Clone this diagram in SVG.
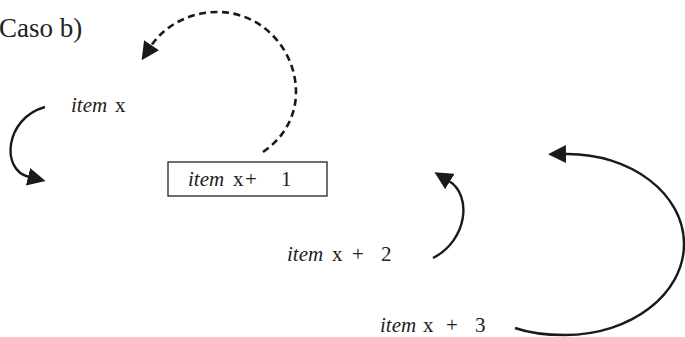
<svg xmlns="http://www.w3.org/2000/svg" width="685" height="337" viewBox="0 0 685 337">
<style>
text{font-size:21px;fill:#222}
.it{font-style:italic}
.arc{fill:none;stroke:#1a1a1a;stroke-width:2.4}
.dash{stroke-dasharray:7 4.5;stroke-width:2.6}
</style>
<defs>
<marker id="ah" viewBox="0 0 18 18" refX="1" refY="9" markerWidth="18" markerHeight="18" markerUnits="userSpaceOnUse" orient="auto">
<path d="M0,0 L18,9 L0,18 z" fill="#1a1a1a"/>
</marker>
</defs>
<g font-family="'Liberation Serif', 'DejaVu Serif', 'Times New Roman', serif">
<text x="-1" y="37" style="font-size:27px">Caso b)</text>
<g id="item-x"><text x="71" y="112"><tspan class="it">item</tspan><tspan x="115">x</tspan></text></g>
<g id="item-x1">
<rect x="168" y="162" width="159" height="34" fill="none" stroke="#222" stroke-width="1.3"/>
<text x="188" y="186"><tspan class="it">item</tspan><tspan x="233">x</tspan><tspan x="245">+</tspan><tspan x="281">1</tspan></text>
</g>
<g id="item-x2"><text x="287" y="261"><tspan class="it">item</tspan><tspan x="332">x</tspan><tspan x="352">+</tspan><tspan x="381">2</tspan></text></g>
<g id="item-x3"><text x="380" y="332"><tspan class="it">item</tspan><tspan x="423">x</tspan><tspan x="446">+</tspan><tspan x="475">3</tspan></text></g>
</g>
<g id="connectors">
<path class="arc dash" d="M263,152 C285,137 296,115 296,92 C296,49 261,12 218,12 C190,12 165,25 151,46" marker-end="url(#ah)"/>
<path class="arc" d="M45,107 C5,118 0,170 29,177" marker-end="url(#ah)"/>
<path class="arc" d="M433,258 C468,240 472,195 449,181" marker-end="url(#ah)"/>
<path class="arc" d="M515,328 C532,334 548,335 565,335 C631,335 684,294 684,244 C684,194 631,153 565,154" marker-end="url(#ah)"/>
</g>
</svg>
